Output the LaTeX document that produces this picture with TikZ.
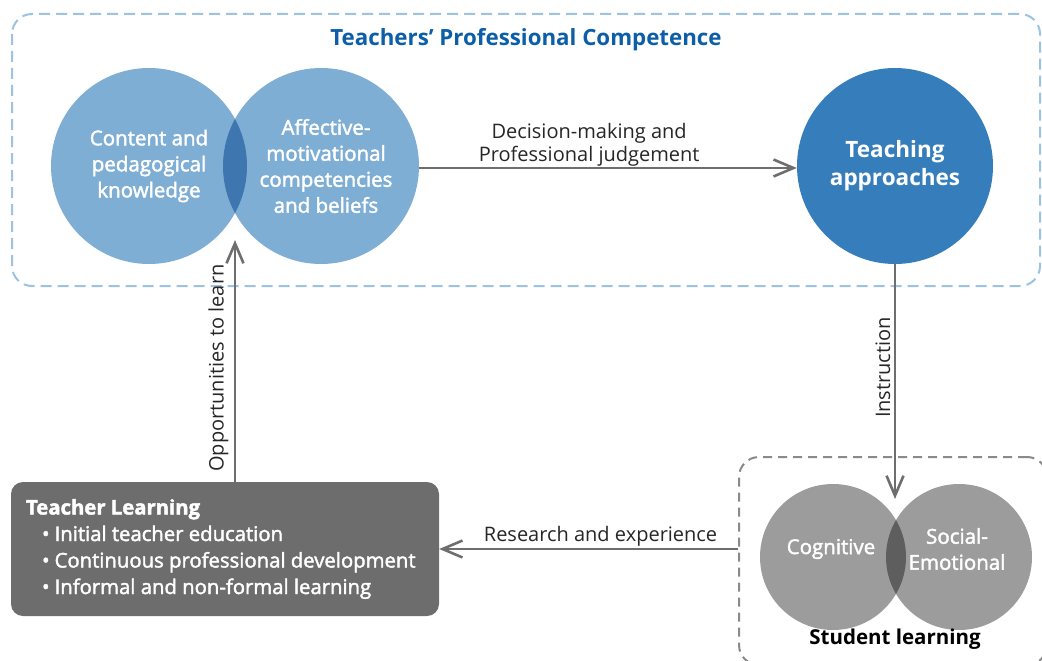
\documentclass[tikz,border=0pt]{standalone}
\usepackage{fontspec}
\setmainfont{Open Sans}
\newfontfamily\medfont[FakeBold=2]{Open Sans}
\usetikzlibrary{arrows.meta}

\definecolor{compblue}{HTML}{7FAED5}
\definecolor{compdark}{HTML}{3E76AF}
\definecolor{teachblue}{HTML}{357EBB}
\definecolor{titleblue}{HTML}{0B5EA7}
\definecolor{dashblue}{HTML}{9DC3E3}
\definecolor{linegray}{HTML}{6E6E6E}
\definecolor{stugray}{HTML}{9C9C9C}
\definecolor{studark}{HTML}{5E5E5E}
\definecolor{boxgray}{HTML}{6D6D6D}
\definecolor{dashgray}{HTML}{8A8A8A}

\tikzset{
  disc/.style={circle, inner sep=0pt, minimum size=196pt},
  smalldisc/.style={circle, inner sep=0pt, minimum size=146pt},
  disctext/.style={text=white, align=center, font=\fontsize{20.5}{26}\medfont},
  conn/.style={draw=linegray, line width=2.6pt, -{Straight Barb[length=20pt, width=17pt]}},
  connlabel/.style={text=black!85, align=center, font=\fontsize{20}{23}\selectfont}
}

\begin{document}
\begin{tikzpicture}[x=1pt, y=-1pt]
    \useasboundingbox (0,0) rectangle (1042,661);
    \clip (0,0) rectangle (1042,661);

    % teachers' professional competence
    \draw[dashblue, line width=2pt, dash pattern=on 11pt off 6pt, rounded corners=20pt]
        (12,14) rectangle (1040,286);
    \node[text=titleblue, font=\fontsize{22.3}{26}\selectfont\bfseries] (title) at (526,40)
        {Teachers’ Professional Competence};

    \node[disc, fill=compblue] (ckn) at (149,166) {};
    \node[disc, fill=compblue] (amc) at (321,166) {};
    \begin{scope}
        \clip (ckn.center) circle[radius=98pt];
        \fill[compdark] (amc.center) circle[radius=98pt];
    \end{scope}
    \node[disctext] (ckntext) at (ckn.center) {Content and\\pedagogical\\knowledge};
    \node[disctext, xshift=5pt] (amctext) at (amc.center)
        {Affective-\\motivational\\competencies\\and beliefs};

    \node[disc, fill=teachblue] (tap) at (895,166) {};
    \node[text=white, align=center, font=\fontsize{22.5}{28}\selectfont\bfseries] (taptext)
        at (tap.center) {Teaching\\approaches};

    % student learning
    \node[draw=dashgray, line width=2pt, dash pattern=on 9pt off 6pt, rounded corners=20pt,
          minimum width=308pt, minimum height=208pt] (slb) at (893,561) {};
    \node[smalldisc, fill=stugray] (cog) at (833,557) {};
    \node[smalldisc, fill=stugray] (soe) at (959,557) {};
    \begin{scope}
        \clip (cog.center) circle[radius=73pt];
        \fill[studark] (soe.center) circle[radius=73pt];
    \end{scope}
    \node[disctext] (cogtext) at (831,549) {Cognitive};
    \node[disctext] (soetext) at (957,549) {Social-\\Emotional};
    \node[font=\fontsize{20.5}{26}\selectfont\bfseries] (sltitle) at (895,639) {Student learning};

    % teacher learning
    \node[fill=boxgray, rounded corners=12pt, minimum width=428pt, minimum height=134pt,
          text=white, align=left, font=\fontsize{20.3}{26.5}\medfont] (tlb) at (225,549)
        {\begin{minipage}{398pt}
         \textbf{Teacher Learning}\\
         \hspace*{16pt}\textbullet\hspace{5pt}Initial teacher education\\
         \hspace*{16pt}\textbullet\hspace{5pt}Continuous professional development\\
         \hspace*{16pt}\textbullet\hspace{5pt}Informal and non-formal learning
         \end{minipage}};

    % connectors
    \coordinate (ins) at (895,499);
    \coordinate (otl) at (235,240);

    \draw[conn] ([yshift=-2pt]amc.east) -- ([yshift=-2pt]tap.west)
        node[connlabel, pos=0.45, above=-3pt] (dmlabel) {Decision-making and\\Professional judgement};
    \draw[conn] (tap.south) -- (ins)
        node[connlabel, pos=0.44, rotate=90, above=0pt] (inslabel) {Instruction};
    \draw[conn, {Straight Barb[length=20pt, width=17pt]}-] (tlb.east) -- (tlb.east -| slb.west)
        node[connlabel, pos=0.54, above=-2pt] (relabel) {Research and experience};
    \draw[conn] (tlb.north -| otl) -- (otl)
        node[connlabel, pos=0.47, rotate=90, above=2pt] (otllabel) {Opportunities to learn};
\end{tikzpicture}
\end{document}
